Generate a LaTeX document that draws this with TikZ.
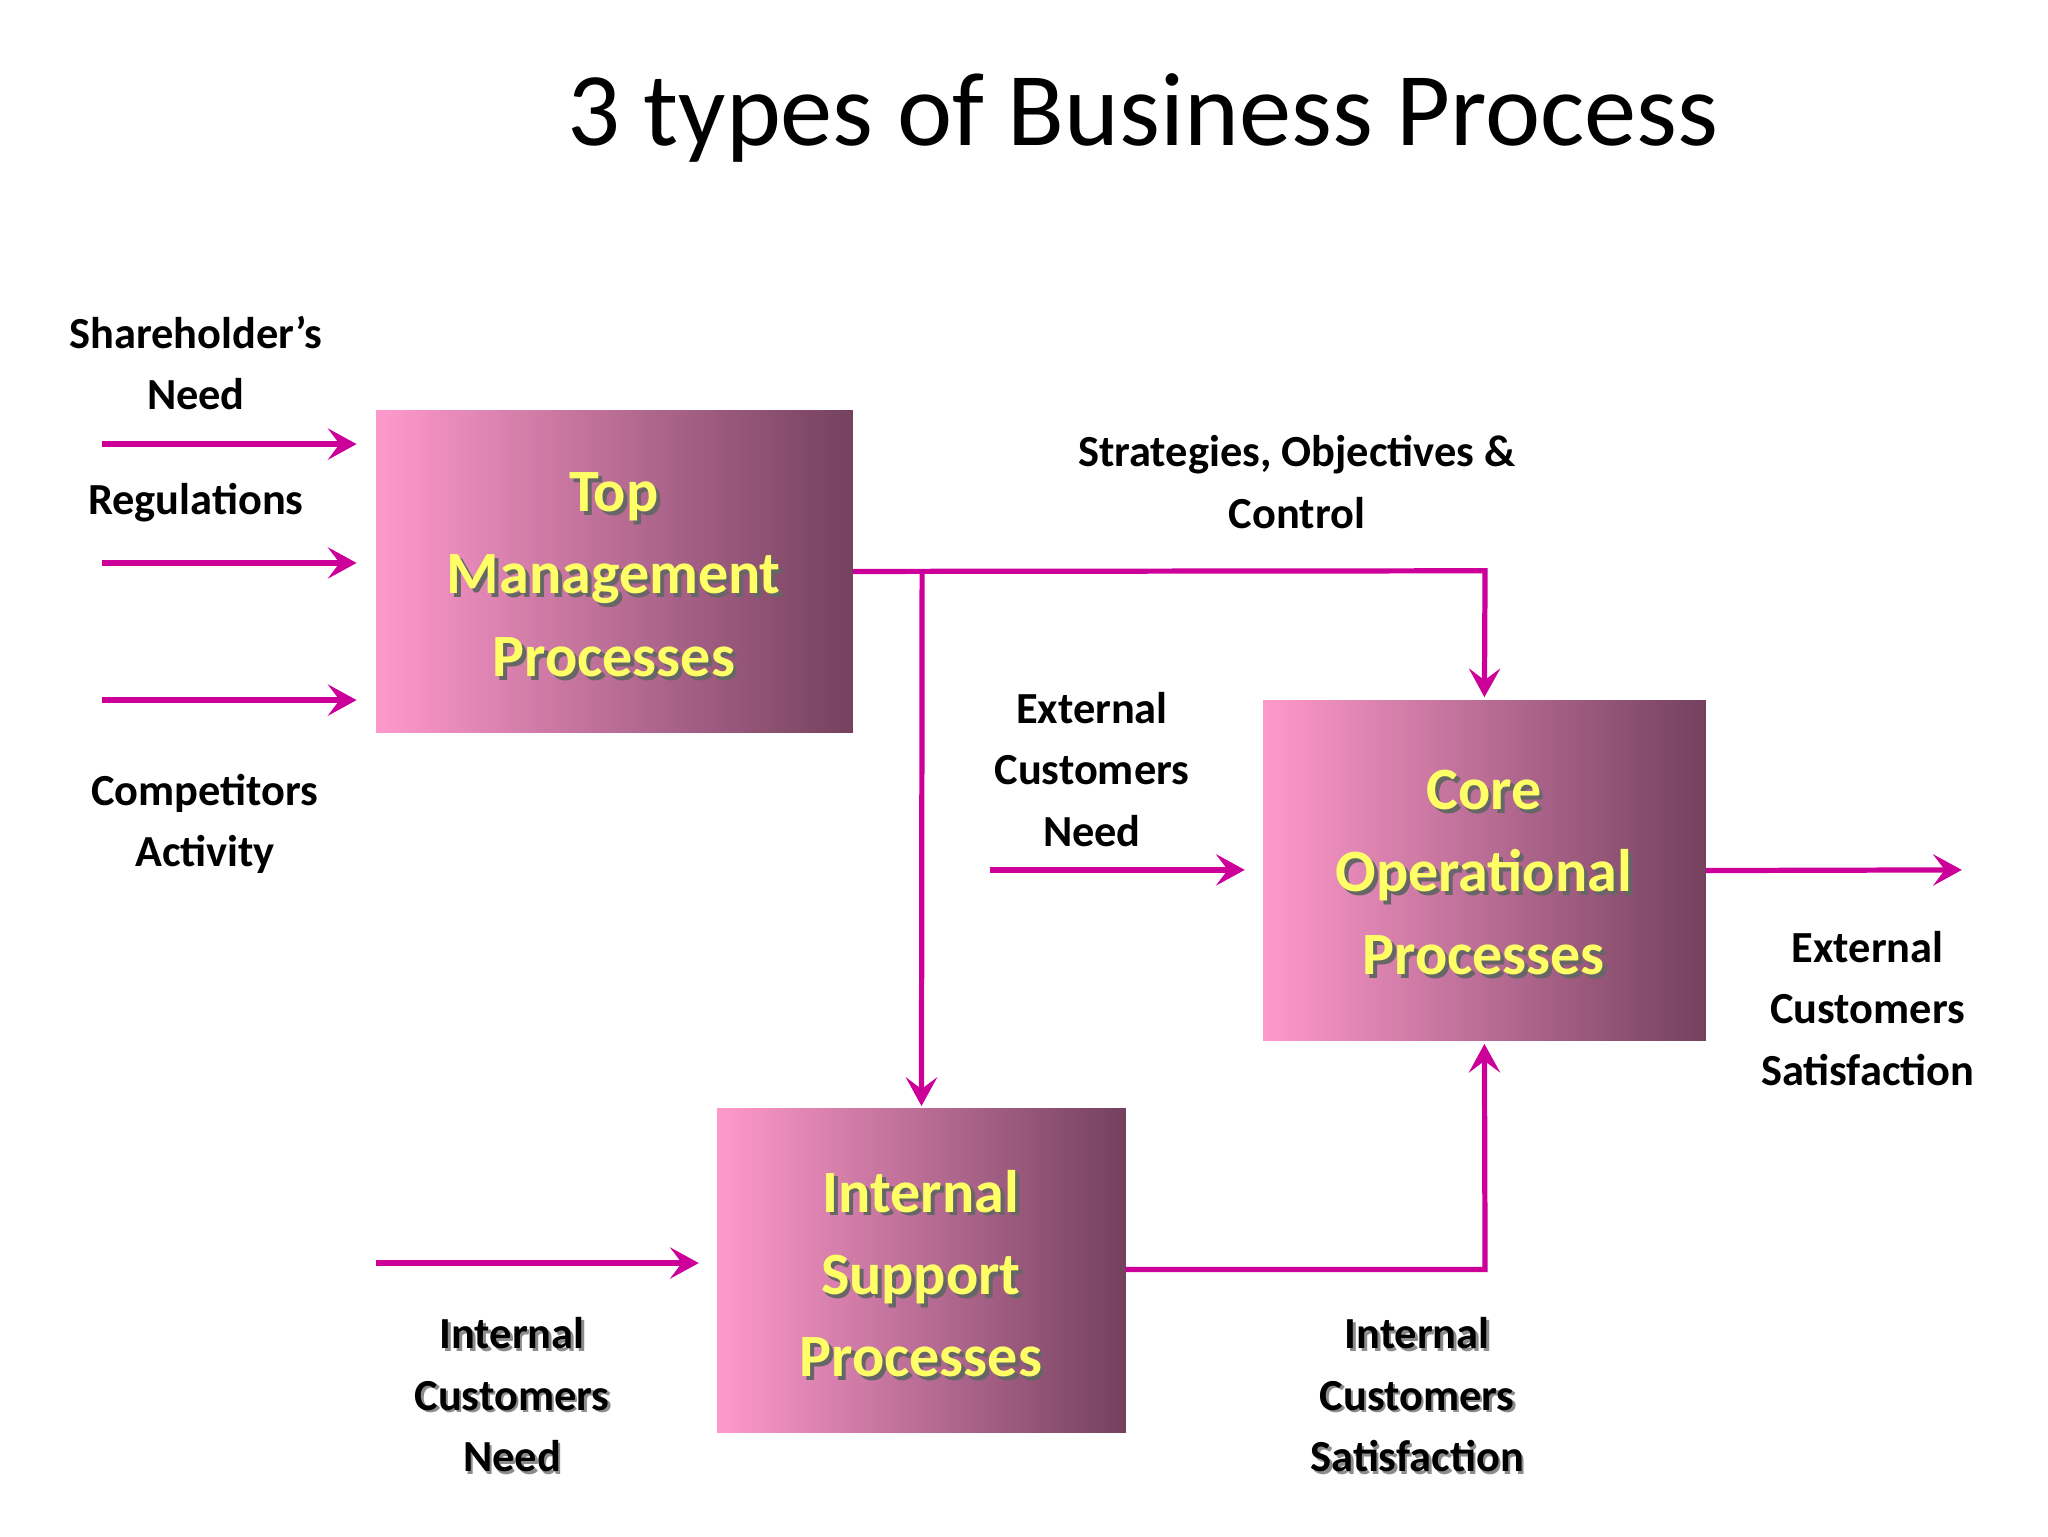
\documentclass[tikz,border=0pt]{standalone}
\usepackage{fontspec}
\setmainfont{Carlito}
\usetikzlibrary{arrows.meta,shadows,calc}
\definecolor{mag}{HTML}{CC0099}
\definecolor{pinkl}{HTML}{FF99CC}
\definecolor{pinkd}{HTML}{74415E}
\definecolor{ytxt}{HTML}{FFFF66}
\tikzset{
 conn/.style={draw=mag,line width=4pt,-{Stealth[length=22pt,width=24pt,inset=9pt]}},
 pbox/.style={left color=pinkl,right color=pinkd,draw=none,inner sep=0pt},
 btxt/.style={font=\fontsize{46}{63}\selectfont\bfseries,text=ytxt,align=center},
 btxs/.style={font=\fontsize{46}{63}\selectfont\bfseries,text=black!60,align=center},
 lbl/.style={font=\fontsize{34}{47}\selectfont\bfseries,align=center},
 lbls/.style={font=\fontsize{34}{47}\selectfont\bfseries,align=center,text=black!45},
}
\begin{document}
\begin{tikzpicture}[x=1pt,y=-1pt]
\useasboundingbox[fill=white] (0,0) rectangle (1568,1176);
\node (title) at (875,90) {\fontsize{80}{90}\selectfont 3 types of Business Process};
% boxes
\path[pbox] (288,314) rectangle (653,561);
\path[pbox] (967,536) rectangle (1306,797);
\path[pbox] (549,849) rectangle (862,1097);
\node[minimum width=365pt,minimum height=247pt] (top) at (470.5,437.5) {};
\node[minimum width=339pt,minimum height=261pt] (core) at (1136.5,666.5) {};
\node[minimum width=313pt,minimum height=248pt] (isp) at (705.5,973) {};
\node[btxs] at (473,443) {Top\\Management\\Processes};
\node[btxt] (toptxt) at (470,440) {Top\\Management\\Processes};
\node[btxs] at (1139,671) {Core\\Operational\\Processes};
\node[btxt] (coretxt) at (1136,668) {Core\\Operational\\Processes};
\node[btxs] at (708,978) {Internal\\Support\\Processes};
\node[btxt] (isptxt) at (705,975) {Internal\\Support\\Processes};
% free coordinates
\coordinate (s1) at (78,340); \coordinate (e1) at (273,340);
\coordinate (s2) at (78,431); \coordinate (e2) at (273,431);
\coordinate (s3) at (78,536); \coordinate (e3) at (273,536);
\coordinate (s4) at (758,666); \coordinate (e4) at (953,666);
\coordinate (e5) at (1502,666);
\coordinate (s6) at (288,967); \coordinate (e6) at (535,967);
\coordinate (br) at (706,437);
\draw[conn] (s1) -- (e1);
\draw[conn] (s2) -- (e2);
\draw[conn] (s3) -- (e3);
\draw[conn] (s4) -- (e4);
\draw[conn] (core.east) -- (e5);
\draw[conn] (s6) -- (e6);
\draw[conn] (top.east) -- (1137,437) -- ($(core.north)+(0,-2)$);
\draw[conn] (br) -- ($(isp.north)+(0,-2)$);
\draw[conn] (862,972) -- (1137,972) -- ($(core.south)+(0,2)$);
% labels
\node[lbl] (l1) at (150,278) {Shareholder’s\\Need};
\node[lbl] (l2) at (150,385) {Regulations};
\node[lbl] (l3) at (157,631) {Competitors\\Activity};
\node[lbl] (l4) at (993,369) {Strategies, Objectives \&\\Control};
\node[lbl] (l5) at (836,589) {External\\Customers\\Need};
\node[lbl] (l6) at (1430,772) {External\\Customers\\Satisfaction};
\node[lbls] at (394,1070) {Internal\\Customers\\Need};
\node[lbl] (l7) at (392,1068) {Internal\\Customers\\Need};
\node[lbls] at (1087,1070) {Internal\\Customers\\Satisfaction};
\node[lbl] (l8) at (1085,1068) {Internal\\Customers\\Satisfaction};
\end{tikzpicture}
\end{document}
